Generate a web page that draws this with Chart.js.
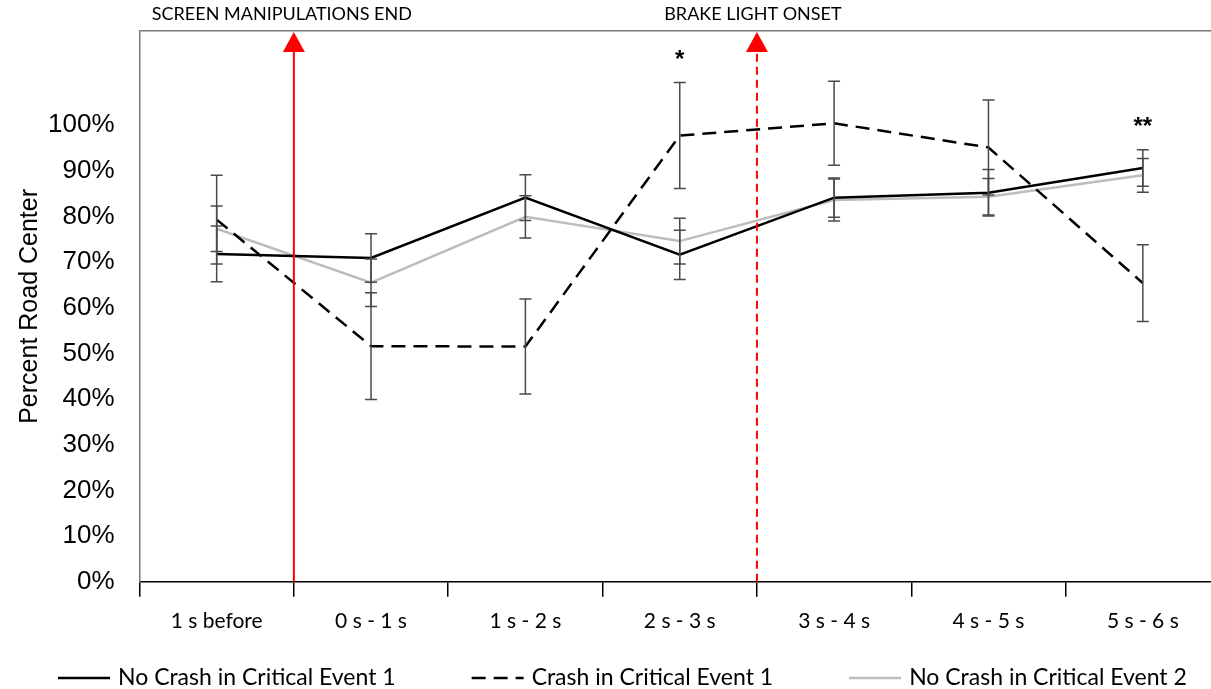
<!DOCTYPE html>
<html lang="en">
<head>
    <meta charset="UTF-8" />
    <title>Percent Road Center</title>
    <script src="https://cdn.jsdelivr.net/npm/chart.js"></script>
    <style>
        html, body { margin: 0; padding: 0; overflow: hidden; background: #fff; }
        #wrap { width: 1266px; height: 700px; }
    </style>
</head>
<body>
    <div id="wrap"><canvas id="roadChart"></canvas></div>

    <script>
        const categories = ['1 s before', '0 s - 1 s', '1 s - 2 s', '2 s - 3 s', '3 s - 4 s', '4 s - 5 s', '5 s - 6 s'];

        // percent road center, with error bar half-widths
        const noCrash1 = [71.8, 70.9, 84.1, 71.6, 84.1, 85.2, 90.6];
        const noCrash1Err = [6.1, 5.3, 5.0, 5.4, 4.3, 5.1, 4.0];
        const crash1 = [79.3, 51.6, 51.5, 97.7, 100.4, 95.1, 65.4];
        const crash1Err = [9.7, 11.7, 10.4, 11.6, 9.2, 10.4, 8.4];
        const noCrash2 = [77.3, 65.5, 79.9, 74.6, 83.6, 84.3, 89.0];
        const noCrash2Err = [5.0, 5.2, 4.6, 5.0, 4.6, 4.0, 3.7];

        const sigMarks = ['', '', '', '*', '', '', '**'];

        // event markers sit between categories
        const eventAt = [0.5, 3.5];
        const eventLabels = ['SCREEN MANIPULATIONS END', 'BRAKE LIGHT ONSET'];
        const eventDashed = [false, true];

        const errors = [noCrash1Err, crash1Err, noCrash2Err];

        const errorBars = {
            id: 'errorBars',
            afterDatasetsDraw(chart) {
                const ctx = chart.ctx;
                const y = chart.scales.y;
                ctx.save();
                ctx.strokeStyle = '#4a4a4a';
                ctx.lineWidth = 1.5;
                chart.data.datasets.forEach((ds, di) => {
                    const meta = chart.getDatasetMeta(di);
                    meta.data.forEach((pt, i) => {
                        const top = y.getPixelForValue(ds.data[i] + errors[di][i]);
                        const bot = y.getPixelForValue(ds.data[i] - errors[di][i]);
                        ctx.beginPath();
                        ctx.moveTo(pt.x, top); ctx.lineTo(pt.x, bot);
                        ctx.moveTo(pt.x - 6, top); ctx.lineTo(pt.x + 6, top);
                        ctx.moveTo(pt.x - 6, bot); ctx.lineTo(pt.x + 6, bot);
                        ctx.stroke();
                    });
                });

                // significance marks above the highest bar
                ctx.fillStyle = '#000';
                ctx.font = 'bold 24px "Liberation Sans"';
                ctx.textAlign = 'center';
                ctx.textBaseline = 'middle';
                sigMarks.forEach((m, i) => {
                    if (!m) return;
                    let hi = 0;
                    chart.data.datasets.forEach((ds, di) => {
                        hi = Math.max(hi, ds.data[i] + errors[di][i]);
                    });
                    const x = chart.getDatasetMeta(0).data[i].x;
                    ctx.fillText(m, x, y.getPixelForValue(hi) - 22);
                });
                ctx.restore();
            }
        };

        const eventMarkers = {
            id: 'eventMarkers',
            afterDatasetsDraw(chart) {
                const ctx = chart.ctx;
                const area = chart.chartArea;
                const x = chart.scales.x;
                ctx.save();
                eventAt.forEach((v, i) => {
                    const px = x.getPixelForValue(v);
                    ctx.strokeStyle = '#ff0000';
                    ctx.fillStyle = '#ff0000';
                    ctx.lineWidth = 2;
                    ctx.setLineDash(eventDashed[i] ? [8, 5] : []);
                    ctx.beginPath();
                    ctx.moveTo(px, area.bottom);
                    ctx.lineTo(px, area.top + 18);
                    ctx.stroke();
                    ctx.setLineDash([]);
                    ctx.beginPath();
                    ctx.moveTo(px, area.top + 1);
                    ctx.lineTo(px - 11, area.top + 21);
                    ctx.lineTo(px + 11, area.top + 21);
                    ctx.closePath();
                    ctx.fill();

                    ctx.fillStyle = '#000';
                    ctx.font = '18px Lato';
                    ctx.textAlign = 'center';
                    ctx.textBaseline = 'middle';
                    ctx.fillText(eventLabels[i], px - (i === 0 ? 12 : 4), area.top - 17);
                });
                ctx.restore();
            }
        };

        // legend drawn along the bottom edge, samples use each dataset's own style
        const bottomLegend = {
            id: 'bottomLegend',
            afterDraw(chart) {
                const ctx = chart.ctx;
                const y = chart.height - 22;
                let x = 58;
                ctx.save();
                ctx.font = '23px Lato';
                ctx.textBaseline = 'middle';
                ctx.textAlign = 'left';
                chart.data.datasets.forEach(ds => {
                    ctx.strokeStyle = ds.borderColor;
                    ctx.lineWidth = 2.5;
                    ctx.setLineDash(ds.borderDash || []);
                    ctx.beginPath();
                    ctx.moveTo(x, y);
                    ctx.lineTo(x + 52, y);
                    ctx.stroke();
                    ctx.fillStyle = '#000';
                    ctx.fillText(ds.label, x + 60, y);
                    x += 60 + ctx.measureText(ds.label).width + 76;
                });
                ctx.restore();
            }
        };

        const ctx = document.getElementById('roadChart').getContext('2d');
        new Chart(ctx, {
            type: 'line',
            data: {
                labels: categories,
                datasets: [{
                    label: 'No Crash in Critical Event 1',
                    data: noCrash1,
                    borderColor: '#000',
                    borderWidth: 2.5
                }, {
                    label: 'Crash in Critical Event 1',
                    data: crash1,
                    borderColor: '#000',
                    borderWidth: 2.5,
                    borderDash: [14, 8]
                }, {
                    label: 'No Crash in Critical Event 2',
                    data: noCrash2,
                    borderColor: '#bdbdbd',
                    borderWidth: 2.5
                }]
            },
            options: {
                responsive: true,
                maintainAspectRatio: false,
                animation: false,
                elements: { point: { radius: 0 }, line: { tension: 0 } },
                layout: { padding: { left: 3, right: 46, top: 31, bottom: 54 } },
                plugins: {
                    tooltip: { enabled: false },
                    legend: { display: false }
                },
                scales: {
                    x: {
                        offset: true,
                        grid: { offset: true, drawOnChartArea: false, color: '#000', lineWidth: 1.5, tickLength: 15 },
                        border: { color: '#000', width: 1.5 },
                        ticks: { color: '#000', font: { family: 'Lato', size: 21 }, padding: 12 }
                    },
                    y: {
                        min: 0,
                        max: 120.6,
                        grid: {
                            drawTicks: false,
                            color: c => c.tick.value > 120.5 ? '#777' : 'rgba(0,0,0,0)',
                            lineWidth: 1.5
                        },
                        border: { color: '#777', width: 1.5 },
                        ticks: {
                            stepSize: 10,
                            color: '#000',
                            padding: 25,
                            // the unlabeled top tick should not reserve space
                            font: c => ({
                                family: 'Liberation Sans',
                                size: 26,
                                lineHeight: c.tick && c.tick.value > 100 ? 0.01 : 1.2
                            }),
                            callback: v => v <= 100 ? v + '%' : ''
                        },
                        title: {
                            display: true,
                            text: 'Percent Road Center',
                            color: '#000',
                            font: { family: 'Liberation Sans', size: 25 },
                            padding: { top: 12, bottom: -22 }
                        }
                    }
                }
            },
            plugins: [errorBars, eventMarkers, bottomLegend]
        });
    </script>
</body>
</html>
